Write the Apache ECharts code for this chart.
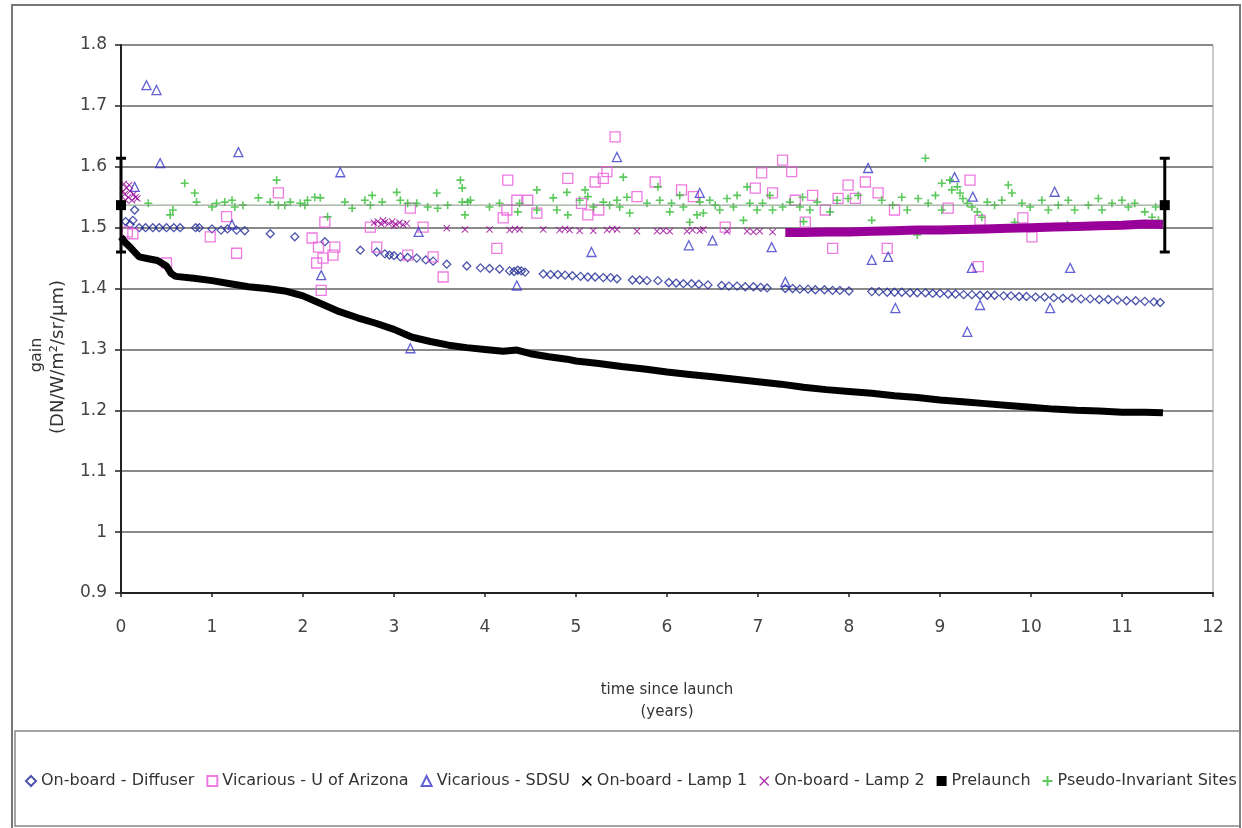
<!DOCTYPE html>
<html>
<head>
<meta charset="utf-8">
<script src="https://cdn.jsdelivr.net/npm/echarts@6/dist/echarts.min.js"></script>
<style>
    html, body { margin: 0; padding: 0; background: #fff; }
    #main { width: 1242px; height: 828px; }
</style>
</head>
<body>
<div id="main"></div>
<script>
var xTicks = [0, 1, 2, 3, 4, 5, 6, 7, 8, 9, 10, 11, 12];
var yTicks = [0.9, 1, 1.1, 1.2, 1.3, 1.4, 1.5, 1.6, 1.7, 1.8];

var seriesNames = ['On-board - Diffuser', 'Vicarious - U of Arizona', 'Vicarious - SDSU',
    'On-board - Lamp 1', 'On-board - Lamp 2', 'Prelaunch', 'Pseudo-Invariant Sites'];

var diffuser = [
    [0.05,1.51],[0.1,1.505],[0.13,1.512],[0.15,1.529],[0.2,1.50],[0.27,1.50],[0.35,1.50],[0.42,1.50],
    [0.5,1.50],[0.58,1.50],[0.65,1.50],[0.82,1.50],[0.86,1.50],[1.0,1.498],[1.1,1.496],[1.17,1.498],
    [1.27,1.496],[1.36,1.495],[1.64,1.49],[1.91,1.485],[2.24,1.477],[2.63,1.463],[2.81,1.46],[2.9,1.457],
    [2.95,1.455],[3.0,1.454],[3.07,1.452],[3.15,1.451],[3.25,1.45],[3.35,1.447],[3.43,1.445],[3.58,1.44],
    [3.8,1.437],[3.95,1.434],[4.05,1.433],[4.16,1.432],[4.27,1.429],[4.32,1.428],[4.36,1.43],[4.4,1.429],
    [4.44,1.427],[4.64,1.424],[4.72,1.423],[4.8,1.423],[4.88,1.422],[4.96,1.421],[5.05,1.42],[5.13,1.419],
    [5.21,1.419],[5.3,1.418],[5.38,1.418],[5.45,1.416],[5.62,1.414],[5.7,1.414],[5.78,1.413],[5.9,1.413],
    [6.02,1.41],[6.1,1.409],[6.18,1.408],[6.27,1.408],[6.35,1.407],[6.45,1.406],[6.6,1.405],[6.68,1.404],
    [6.77,1.404],[6.86,1.403],[6.95,1.403],[7.03,1.402],[7.1,1.401],[7.3,1.40],[7.38,1.40],[7.46,1.399],
    [7.55,1.399],[7.63,1.398],[7.73,1.398],[7.82,1.397],[7.9,1.397],[8.0,1.396],[8.25,1.395],[8.33,1.395],
    [8.42,1.394],[8.5,1.394],[8.58,1.394],[8.67,1.393],[8.75,1.393],[8.84,1.393],[8.92,1.392],[9.0,1.392],
    [9.09,1.391],[9.17,1.391],[9.26,1.39],[9.35,1.39],[9.44,1.389],[9.52,1.389],[9.6,1.389],[9.7,1.388],
    [9.78,1.388],[9.87,1.387],[9.95,1.387],[10.05,1.386],[10.15,1.386],[10.25,1.385],[10.35,1.384],
    [10.45,1.384],[10.55,1.383],[10.65,1.383],[10.75,1.382],[10.85,1.382],[10.95,1.381],[11.05,1.38],
    [11.15,1.38],[11.25,1.379],[11.35,1.378],[11.42,1.377]
];

var arizona = [
    [0.07,1.493],[0.13,1.49],[0.5,1.442],[0.98,1.485],[1.16,1.518],[1.27,1.458],[1.73,1.557],[2.1,1.483],
    [2.15,1.442],[2.17,1.468],[2.2,1.397],[2.22,1.45],[2.24,1.509],[2.33,1.455],[2.35,1.468],[2.74,1.501],
    [2.81,1.468],[3.15,1.455],[3.18,1.532],[3.32,1.501],[3.43,1.452],[3.54,1.419],[4.13,1.466],[4.2,1.516],
    [4.24,1.529],[4.25,1.578],[4.35,1.545],[4.47,1.545],[4.57,1.524],[4.91,1.581],[5.06,1.54],[5.13,1.521],
    [5.21,1.575],[5.25,1.529],[5.3,1.581],[5.34,1.592],[5.43,1.649],[5.67,1.551],[5.87,1.575],[6.16,1.562],
    [6.29,1.551],[6.64,1.501],[6.97,1.565],[7.04,1.59],[7.16,1.557],[7.27,1.611],[7.37,1.592],[7.41,1.545],
    [7.52,1.509],[7.6,1.553],[7.74,1.529],[7.82,1.466],[7.88,1.548],[7.99,1.57],[8.07,1.548],[8.18,1.575],
    [8.32,1.557],[8.42,1.466],[8.5,1.529],[9.09,1.532],[9.33,1.578],[9.42,1.436],[9.44,1.512],[9.91,1.516],
    [10.01,1.485]
];

var sdsu = [
    [0.15,1.567],[0.28,1.734],[0.39,1.726],[0.43,1.606],[1.22,1.505],[1.29,1.624],[2.2,1.422],[2.41,1.591],
    [3.18,1.302],[3.27,1.493],[4.35,1.405],[5.17,1.46],[5.45,1.616],[6.24,1.471],[6.36,1.557],[6.5,1.479],
    [7.15,1.468],[7.3,1.411],[8.21,1.598],[8.25,1.447],[8.43,1.452],[8.51,1.368],[9.16,1.583],[9.3,1.329],
    [9.35,1.434],[9.36,1.551],[9.44,1.373],[10.21,1.368],[10.26,1.559],[10.43,1.434]
];

var lamp1 = [
    [0.0,1.485],[0.05,1.475],[0.1,1.468],[0.15,1.46],[0.2,1.452],[0.3,1.449],[0.4,1.446],[0.5,1.437],
    [0.55,1.425],[0.6,1.42],[0.8,1.417],[1.0,1.413],[1.2,1.408],[1.4,1.403],[1.6,1.40],[1.8,1.396],
    [2.0,1.388],[2.2,1.375],[2.4,1.362],[2.6,1.352],[2.8,1.343],[3.0,1.333],[3.2,1.32],[3.4,1.313],
    [3.6,1.307],[3.8,1.303],[4.0,1.30],[4.2,1.297],[4.35,1.299],[4.5,1.293],[4.7,1.288],[4.9,1.284],
    [5.0,1.281],[5.25,1.277],[5.5,1.272],[5.75,1.268],[6.0,1.263],[6.25,1.259],[6.5,1.255],[6.75,1.251],
    [7.0,1.247],[7.25,1.243],[7.5,1.238],[7.75,1.234],[8.0,1.231],[8.25,1.228],[8.5,1.224],[8.75,1.221],
    [9.0,1.217],[9.25,1.214],[9.5,1.211],[9.75,1.208],[10.0,1.205],[10.25,1.202],[10.5,1.20],[10.75,1.199],
    [11.0,1.197],[11.25,1.197],[11.45,1.196]
];

var lamp2 = [
    [0.02,1.56],[0.04,1.555],[0.06,1.565],[0.08,1.55],[0.1,1.56],[0.12,1.545],[0.14,1.555],[0.16,1.55],
    [0.05,1.545],[0.09,1.57],[0.03,1.572],[0.18,1.548],
    [2.78,1.508],[2.82,1.51],[2.86,1.506],[2.9,1.509],[2.94,1.507],[2.98,1.51],[3.02,1.506],[3.06,1.508],
    [3.1,1.505],[3.14,1.507],[2.88,1.512],[3.0,1.503],
    [3.58,1.499],[3.78,1.497],[4.05,1.497],[4.27,1.496],[4.33,1.498],[4.38,1.497],[4.64,1.497],[4.82,1.496],
    [4.88,1.498],[4.93,1.496],[5.04,1.495],[5.19,1.495],[5.34,1.496],[5.4,1.498],[5.45,1.497],[5.67,1.494],
    [5.89,1.494],[5.96,1.495],[6.03,1.494],[6.22,1.494],[6.28,1.496],[6.36,1.495],[6.4,1.497],[6.66,1.494],
    [6.88,1.494],[6.95,1.493],[7.02,1.494],[7.16,1.493]
];

// dense lamp 2 band after year 7.3
var lamp2Band = [
    [7.3,1.492],[7.5,1.492],[7.75,1.493],[8.0,1.493],[8.25,1.494],[8.5,1.495],[8.75,1.496],[9.0,1.496],
    [9.25,1.497],[9.5,1.498],[9.75,1.499],[10.0,1.50],[10.25,1.501],[10.5,1.502],[10.75,1.503],
    [11.0,1.504],[11.25,1.506],[11.45,1.505]
];

var prelaunchX = [0, 11.47];
var prelaunchY = [1.537, 1.537];
var prelaunchErr = [0.077, 0.077];

var pics = [
    [0.3,1.54],[0.54,1.521],[0.57,1.529],[0.7,1.573],[0.81,1.557],[0.83,1.542],[1.0,1.534],[1.05,1.54],
    [1.14,1.542],[1.22,1.545],[1.25,1.534],[1.34,1.537],[1.51,1.549],[1.64,1.542],[1.71,1.578],[1.73,1.537],
    [1.8,1.537],[1.86,1.542],[1.97,1.54],[2.02,1.537],[2.05,1.545],[2.13,1.55],[2.19,1.549],[2.27,1.518],
    [2.46,1.542],[2.54,1.532],[2.68,1.545],[2.74,1.537],[2.76,1.553],[2.87,1.542],[3.03,1.558],[3.07,1.545],
    [3.15,1.54],[3.25,1.54],[3.37,1.534],[3.47,1.557],[3.48,1.532],[3.59,1.537],[3.73,1.578],[3.75,1.565],
    [3.75,1.542],[3.78,1.521],[3.81,1.542],[3.84,1.545],[4.05,1.534],[4.16,1.54],[4.36,1.526],[4.38,1.54],
    [4.57,1.562],[4.57,1.529],[4.75,1.549],[4.79,1.529],[4.9,1.558],[4.91,1.521],[5.04,1.545],[5.1,1.562],
    [5.13,1.551],[5.19,1.534],[5.3,1.542],[5.37,1.537],[5.45,1.545],[5.48,1.534],[5.52,1.583],[5.56,1.55],
    [5.59,1.524],[5.78,1.54],[5.9,1.567],[5.92,1.545],[6.03,1.526],[6.05,1.54],[6.14,1.553],[6.18,1.534],
    [6.25,1.509],[6.33,1.521],[6.36,1.542],[6.4,1.524],[6.47,1.545],[6.53,1.537],[6.58,1.529],[6.66,1.548],
    [6.73,1.534],[6.77,1.553],[6.84,1.512],[6.88,1.567],[6.91,1.54],[6.99,1.529],[7.05,1.54],[7.13,1.553],
    [7.16,1.529],[7.27,1.534],[7.35,1.542],[7.46,1.534],[7.49,1.55],[7.5,1.51],[7.57,1.529],[7.65,1.542],
    [7.79,1.526],[7.87,1.545],[7.99,1.548],[8.1,1.553],[8.25,1.512],[8.36,1.545],[8.48,1.537],[8.58,1.55],
    [8.64,1.529],[8.75,1.488],[8.76,1.548],[8.84,1.614],[8.87,1.54],[8.95,1.553],[9.02,1.573],[9.02,1.529],
    [9.11,1.578],[9.13,1.562],[9.19,1.567],[9.22,1.557],[9.25,1.548],[9.3,1.54],[9.35,1.534],[9.41,1.526],
    [9.46,1.517],[9.52,1.542],[9.6,1.537],[9.68,1.545],[9.75,1.57],[9.79,1.557],[9.82,1.509],[9.9,1.54],
    [9.99,1.534],[10.12,1.545],[10.19,1.529],[10.3,1.537],[10.4,1.505],[10.41,1.545],[10.48,1.529],
    [10.63,1.537],[10.74,1.548],[10.78,1.529],[10.89,1.54],[10.95,1.505],[11.0,1.545],[11.07,1.534],
    [11.14,1.54],[11.25,1.526],[11.33,1.517],[11.37,1.534],[11.4,1.512]
];

var chart = (function () {
    var colors = {
        diffuser: '#1f2a96',
        arizona: '#e85ad8',
        sdsu: '#3a3ac8',
        lamp1: '#000000',
        lamp2: '#990099',
        prelaunch: '#000000',
        pics: '#33bb33'
    };
    var xPath = 'path://M0,1L1,0L5,4L9,0L10,1L6,5L10,9L9,10L5,6L1,10L0,9L4,5Z';
    var plusPath = 'path://M4,0H6V4H10V6H6V10H4V6H0V4H4Z';
    var font = '"DejaVu Sans", Verdana, sans-serif';

    var Return = {
        init: function () {
            var myChart = echarts.init(document.getElementById('main'));
            myChart.setOption(buildOption());
        }
    };

    var hollow = function (color) {
        return { color: 'rgba(255,255,255,0)', borderColor: color, borderWidth: 1.3 };
    };

    var renderErrorBar = function (params, api) {
        var x = api.value(0);
        var y = api.value(1);
        var e = api.value(2);
        var top = api.coord([x, y + e]);
        var bottom = api.coord([x, y - e]);
        var style = { stroke: '#000', lineWidth: 3 };
        return {
            type: 'group',
            children: [
                { type: 'line', shape: { x1: top[0], y1: top[1], x2: bottom[0], y2: bottom[1] }, style: style },
                { type: 'line', shape: { x1: top[0] - 5, y1: top[1], x2: top[0] + 5, y2: top[1] }, style: style },
                { type: 'line', shape: { x1: bottom[0] - 5, y1: bottom[1], x2: bottom[0] + 5, y2: bottom[1] }, style: style }
            ]
        };
    };

    var buildOption = function () {
        var prelaunch = prelaunchX.map(function (x, i) { return [x, prelaunchY[i]]; });
        var errBars = prelaunchX.map(function (x, i) { return [x, prelaunchY[i], prelaunchErr[i]]; });
        return {
            backgroundColor: '#fff',
            animation: false,
            textStyle: { fontFamily: font },
            graphic: [
                { type: 'rect', shape: { x: 12, y: 5, width: 1228, height: 830 }, style: { fill: 'none', stroke: '#777', lineWidth: 2 }, silent: true },
                { type: 'rect', shape: { x: 15, y: 731, width: 1225, height: 95 }, style: { fill: 'none', stroke: '#888', lineWidth: 1.5 }, silent: true },
                { type: 'text', x: 37, y: 355, rotation: Math.PI / 2, style: { text: 'gain', fill: '#333', font: '16px ' + font, align: 'center', verticalAlign: 'middle' } },
                { type: 'text', x: 58, y: 357, rotation: Math.PI / 2, style: { text: '(DN/W/m²/sr/μm)', fill: '#333', font: '18px ' + font, align: 'center', verticalAlign: 'middle' } }
            ],
            grid: { left: 121, right: 29, top: 45, bottom: 235, show: true, borderColor: '#999', borderWidth: 1 },
            legend: {
                left: 20,
                top: 768,
                itemGap: 12,
                itemWidth: 10,
                itemHeight: 10,
                textStyle: { fontSize: 16, color: '#333', fontFamily: font },
                data: [
                    { name: seriesNames[0], icon: 'diamond' },
                    { name: seriesNames[1], icon: 'rect' },
                    { name: seriesNames[2], icon: 'triangle' },
                    { name: seriesNames[3], icon: xPath },
                    { name: seriesNames[4], icon: xPath },
                    { name: seriesNames[5], icon: 'rect' },
                    { name: seriesNames[6], icon: plusPath }
                ]
            },
            xAxis: {
                type: 'value',
                min: xTicks[0],
                max: xTicks[xTicks.length - 1],
                interval: 1,
                name: 'time since launch\n(years)',
                nameLocation: 'middle',
                nameGap: 86,
                nameTextStyle: { fontSize: 15, color: '#333', lineHeight: 22 },
                axisLine: { lineStyle: { color: '#222', width: 2 } },
                axisTick: { length: 4, lineStyle: { color: '#222', width: 1.5 } },
                axisLabel: { fontSize: 17, color: '#444', margin: 26 },
                splitLine: { show: false }
            },
            yAxis: {
                type: 'value',
                min: yTicks[0],
                max: yTicks[yTicks.length - 1],
                interval: 0.1,
                axisLine: { show: true, lineStyle: { color: '#222', width: 2 } },
                axisTick: { show: true, length: 6, lineStyle: { color: '#222', width: 1.5 } },
                axisLabel: { fontSize: 17, color: '#444', margin: 14 },
                splitLine: { lineStyle: { color: '#8a8a8a', width: 2 } }
            },
            series: [
                {
                    name: seriesNames[0], type: 'scatter', symbol: 'diamond', symbolSize: 8,
                    itemStyle: hollow(colors.diffuser), data: diffuser
                },
                {
                    name: seriesNames[1], type: 'scatter', symbol: 'rect', symbolSize: 10,
                    itemStyle: hollow(colors.arizona), data: arizona
                },
                {
                    name: seriesNames[2], type: 'scatter', symbol: 'triangle', symbolSize: 9,
                    itemStyle: hollow(colors.sdsu), data: sdsu
                },
                {
                    name: seriesNames[3], type: 'line', showSymbol: false, symbol: 'none',
                    itemStyle: { color: colors.lamp1 },
                    lineStyle: { color: colors.lamp1, width: 7 }, data: lamp1
                },
                {
                    name: seriesNames[4], type: 'scatter', symbol: xPath, symbolSize: 7,
                    itemStyle: { color: colors.lamp2 }, data: lamp2
                },
                {
                    name: seriesNames[4], type: 'line', symbol: 'none',
                    itemStyle: { color: colors.lamp2 },
                    lineStyle: { color: colors.lamp2, width: 9 }, data: lamp2Band
                },
                {
                    name: seriesNames[5], type: 'line', symbol: 'rect', symbolSize: 10,
                    itemStyle: { color: colors.prelaunch },
                    lineStyle: { color: '#7f947f', width: 1 }, data: prelaunch, z: 4
                },
                {
                    name: 'Prelaunch error', type: 'custom', renderItem: renderErrorBar,
                    data: errBars, z: 4
                },
                {
                    name: seriesNames[6], type: 'scatter', symbol: plusPath, symbolSize: 8,
                    itemStyle: { color: colors.pics }, data: pics
                }
            ]
        };
    };

    return Return;
})();

; (function () {
    chart.init();
})();
</script>
</body>
</html>
